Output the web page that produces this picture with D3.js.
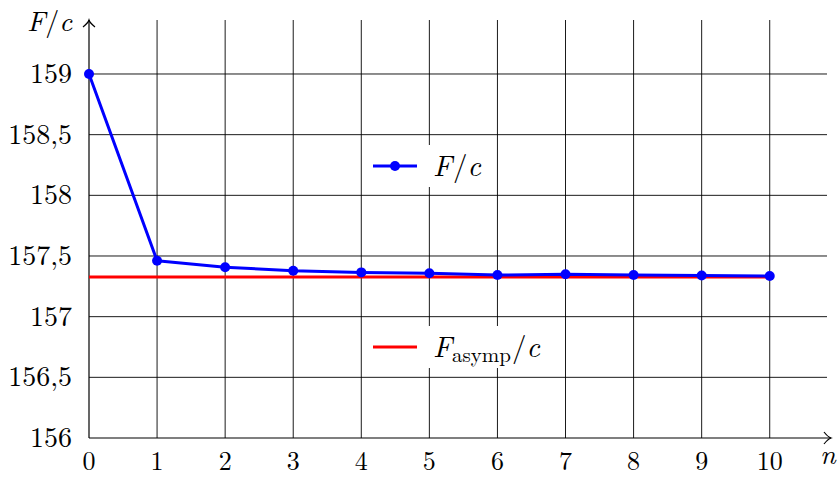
<!DOCTYPE html>
<html>
<head>
<meta charset="utf-8">
<script src="https://cdn.jsdelivr.net/npm/d3@7"></script>
<style>
  body { margin: 0; background: #fff; }
  text { font-family: "Latin Modern Roman", "Liberation Serif", serif; }
</style>
</head>
<body>
<div id="chart"></div>
<script>
const nValues = [0, 1, 2, 3, 4, 5, 6, 7, 8, 9, 10];
const forceValues = [159, 157.461, 157.407, 157.379, 157.365, 157.358, 157.343, 157.350, 157.343, 157.340, 157.335];
const asympValue = 157.327;
const xTicks = [0, 1, 2, 3, 4, 5, 6, 7, 8, 9, 10];
const yTicks = [156, 156.5, 157, 157.5, 158, 158.5, 159];

const width = 838, height = 477;
const margin = { top: 20, right: 7, bottom: 39, left: 89 };

const x = d3.scaleLinear()
    .domain([0, 10.9])
    .range([margin.left, width - margin.right]);
const y = d3.scaleLinear()
    .domain([156, 159.445])
    .range([height - margin.bottom, margin.top]);

const svg = d3.select("#chart").append("svg")
    .attr("width", width)
    .attr("height", height);

// grid
svg.append("g")
    .selectAll("line")
    .data(xTicks.slice(1))
    .join("line")
    .attr("x1", d => x(d)).attr("x2", d => x(d))
    .attr("y1", y.range()[0]).attr("y2", y.range()[1])
    .attr("stroke", "#000").attr("stroke-width", 0.9);
svg.append("g")
    .selectAll("line")
    .data(yTicks.slice(1))
    .join("line")
    .attr("x1", x.range()[0]).attr("x2", x.range()[1] - 4)
    .attr("y1", d => y(d)).attr("y2", d => y(d))
    .attr("stroke", "#000").attr("stroke-width", 0.9);

const fmt = d => String(d).replace(".", ",");

// tick labels
svg.append("g")
    .selectAll("text")
    .data(xTicks)
    .join("text")
    .attr("x", d => x(d))
    .attr("y", 470)
    .attr("text-anchor", "middle")
    .attr("font-size", 26)
    .text(d => d);
svg.append("g")
    .selectAll("text")
    .data(yTicks)
    .join("text")
    .attr("x", 72)
    .attr("y", d => y(d) + 9)
    .attr("text-anchor", "end")
    .attr("font-size", 28)
    .text(fmt);

// axes with arrows
const axis = svg.append("g").attr("stroke", "#000").attr("stroke-width", 1.2).attr("fill", "none");
axis.append("line")
    .attr("x1", x.range()[0]).attr("x2", x.range()[1])
    .attr("y1", y.range()[0]).attr("y2", y.range()[0]);
axis.append("path")
    .attr("d", `M${x.range()[1] - 7},${y.range()[0] - 6} Q${x.range()[1] - 3},${y.range()[0] - 1} ${x.range()[1]},${y.range()[0]} Q${x.range()[1] - 3},${y.range()[0] + 1} ${x.range()[1] - 7},${y.range()[0] + 6}`);
axis.append("line")
    .attr("x1", x.range()[0]).attr("x2", x.range()[0])
    .attr("y1", y.range()[0]).attr("y2", y.range()[1]);
axis.append("path")
    .attr("d", `M${x.range()[0] - 6},${y.range()[1] + 7} Q${x.range()[0] - 1},${y.range()[1] + 3} ${x.range()[0]},${y.range()[1]} Q${x.range()[0] + 1},${y.range()[1] + 3} ${x.range()[0] + 6},${y.range()[1] + 7}`);

// axis labels
const yLab = svg.append("text")
    .attr("x", 27).attr("y", 31)
    .attr("font-size", 28);
yLab.append("tspan").attr("font-style", "italic").text("F");
yLab.append("tspan").text("/");
yLab.append("tspan").attr("font-style", "italic").text("c");
svg.append("text")
    .attr("x", 820).attr("y", 464)
    .attr("font-size", 28)
    .attr("font-style", "italic")
    .text("n");

// asymptote
svg.append("line")
    .attr("x1", x(0)).attr("x2", x(10))
    .attr("y1", y(asympValue)).attr("y2", y(asympValue))
    .attr("stroke", "#ff0000").attr("stroke-width", 3);

// series
const line = d3.line()
    .x((d, i) => x(nValues[i]))
    .y(d => y(d));
svg.append("path")
    .attr("d", line(forceValues))
    .attr("fill", "none")
    .attr("stroke", "#0000ff")
    .attr("stroke-width", 3)
    .attr("stroke-linejoin", "round");
svg.append("g")
    .selectAll("circle")
    .data(forceValues)
    .join("circle")
    .attr("cx", (d, i) => x(nValues[i]))
    .attr("cy", d => y(d))
    .attr("r", 5)
    .attr("fill", "#0000ff");

// legend entries
const legend = [
  { ly: 166, color: "#0000ff", mark: true, w: 68, parts: [["F", "italic"], ["/", null], ["c", "italic"]] },
  { ly: 347, color: "#ff0000", mark: false, w: 123, parts: [["F", "italic"], ["asymp", "sub"], ["/", null], ["c", "italic"]] }
];
legend.forEach(e => {
  svg.append("rect")
      .attr("x", 424).attr("y", e.ly - 21)
      .attr("width", e.w).attr("height", 42)
      .attr("fill", "#fff");
  svg.append("line")
      .attr("x1", 373).attr("x2", 417)
      .attr("y1", e.ly).attr("y2", e.ly)
      .attr("stroke", e.color).attr("stroke-width", 3);
  if (e.mark) {
    svg.append("circle").attr("cx", 395).attr("cy", e.ly).attr("r", 5).attr("fill", e.color);
  }
  const hasSub = e.parts.some(q => q[1] === "sub");
  const t = svg.append("text")
      .attr("x", 433).attr("y", e.ly + 10)
      .attr("font-size", 29);
  e.parts.forEach(p => {
    const s = t.append("tspan").text(p[0]);
    if (p[1] === "italic") s.attr("font-style", "italic");
    if (p[1] === "sub") s.attr("font-size", 21).attr("dy", 5);
    if (p[0] === "/") s.attr("dx", 1).attr("dy", hasSub ? -5 : 0);
  });
});
</script>
</body>
</html>
